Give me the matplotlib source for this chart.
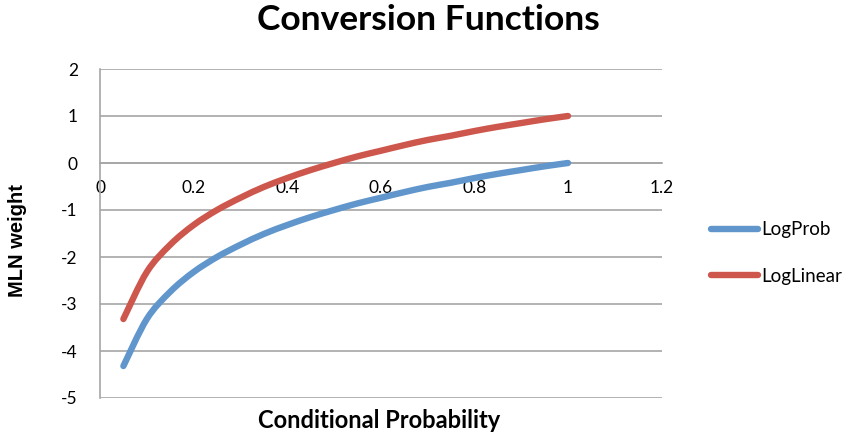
import matplotlib
matplotlib.use("Agg")
import matplotlib.pyplot as plt
from matplotlib.path import Path
from matplotlib.patches import PathPatch
from matplotlib.lines import Line2D

prob = [0.05, 0.1, 0.15, 0.2, 0.25, 0.3, 0.35, 0.4, 0.45, 0.5,
        0.55, 0.6, 0.65, 0.7, 0.75, 0.8, 0.85, 0.9, 0.95, 1.0]
log_prob = [-4.32, -3.32, -2.74, -2.32, -2.0, -1.74, -1.51, -1.32, -1.15, -1.0,
            -0.86, -0.74, -0.62, -0.51, -0.42, -0.32, -0.23, -0.15, -0.07, 0.0]
log_linear = [-3.32, -2.32, -1.74, -1.32, -1.0, -0.74, -0.51, -0.32, -0.15, 0.0,
              0.14, 0.26, 0.38, 0.49, 0.58, 0.68, 0.77, 0.85, 0.93, 1.0]
series_names = ["LogProb", "LogLinear"]
x_ticks = [0, 0.2, 0.4, 0.6, 0.8, 1, 1.2]
x_tick_labels = ["0", "0.2", "0.4", "0.6", "0.8", "1", "1.2"]
y_ticks = [2, 1, 0, -1, -2, -3, -4, -5]

plt.rcParams['font.family'] = ['Lato', 'DejaVu Sans']

W, H = 860, 437
fig = plt.figure(figsize=(W / 100, H / 100), dpi=100)
left, right, top, bottom = 100, 661.6, 69, 398
ax = fig.add_axes([left / W, 1 - bottom / H, (right - left) / W, (bottom - top) / H])


def smooth_path(xs, ys):
    """Excel-style smoothed line: cubic Bezier segments through the data points."""
    pts = list(zip(xs, ys))
    n = len(pts)
    verts = [pts[0]]
    codes = [Path.MOVETO]
    for i in range(n - 1):
        p0 = pts[i - 1] if i > 0 else pts[i]
        p1 = pts[i]
        p2 = pts[i + 1]
        p3 = pts[i + 2] if i + 2 < n else pts[i + 1]
        c1 = (p1[0] + (p2[0] - p0[0]) / 6, p1[1] + (p2[1] - p0[1]) / 6)
        c2 = (p2[0] - (p3[0] - p1[0]) / 6, p2[1] - (p3[1] - p1[1]) / 6)
        verts += [c1, c2, p2]
        codes += [Path.CURVE4] * 3
    return Path(verts, codes)


blue = '#6096CC'
red = '#CD574C'
lw = 4.6
handles = []
for ys, col, name in [(log_prob, blue, series_names[0]), (log_linear, red, series_names[1])]:
    patch = PathPatch(smooth_path(prob, ys), facecolor='none', edgecolor=col, lw=lw,
                      capstyle='round', joinstyle='round', zorder=3)
    ax.add_patch(patch)
    handles.append(Line2D([], [], color=col, lw=lw, solid_capstyle='round', label=name))

ax.set_xlim(0, 1.2)
ax.set_ylim(-5, 2)
ax.set_yticks(y_ticks)
ax.set_yticklabels([str(v) for v in y_ticks])
ax.set_xticks(x_ticks)
ax.set_xticklabels(x_tick_labels)
ax.grid(axis='y', color='#A6A6A6', lw=1.2)
ax.set_axisbelow(True)
for s in ['top', 'right']:
    ax.spines[s].set_visible(False)
ax.spines['bottom'].set_position(('data', 0))
ax.spines['bottom'].set_color('#A6A6A6')
ax.spines['bottom'].set_linewidth(1.2)
ax.spines['left'].set_color('#A6A6A6')
ax.spines['left'].set_linewidth(1.2)
ax.tick_params(axis='both', length=0, labelsize=12.5, colors='#000000')
ax.tick_params(axis='y', pad=16)
ax.tick_params(axis='x', pad=12)

fig.text(428 / W, 1 - 20 / H, 'Conversion Functions', ha='center', va='center',
         fontsize=25.5, fontweight='bold')
fig.text(379 / W, 1 - 421 / H, 'Conditional Probability', ha='center', va='center',
         fontsize=17, fontweight='bold')
fig.text(18 / W, 1 - 241 / H, 'MLN weight', ha='center', va='center', rotation=90,
         fontsize=14.5, fontweight='bold', family=['Liberation Sans', 'DejaVu Sans'])

fig.legend(handles=handles, loc='center left', bbox_to_anchor=(694 / W, 1 - 253 / H),
           frameon=False, fontsize=13.5, handlelength=2.5, handletextpad=0.2,
           labelspacing=1.55)

fig.savefig('out.png', dpi=100)
